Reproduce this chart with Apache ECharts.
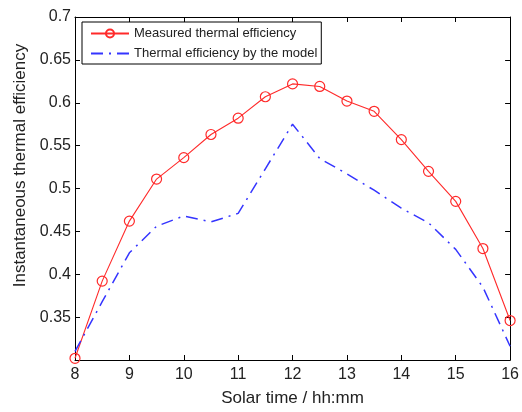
<!DOCTYPE html>
<html>
<head>
<meta charset="utf-8">
<script src="https://cdn.jsdelivr.net/npm/echarts@6/dist/echarts.min.js"></script>
<style>
  html, body { margin: 0; padding: 0; background: #fff; }
  #chart { width: 522px; height: 412px; }
</style>
</head>
<body>
<div id="chart"></div>
<script>
// solar time (hours) and the two efficiency curves
const solarTime = [8, 8.5, 9, 9.5, 10, 10.5, 11, 11.5, 12, 12.5, 13, 13.5, 14, 14.5, 15, 15.5, 16]
const measured = [0.302, 0.392, 0.462, 0.511, 0.536, 0.563, 0.582, 0.607, 0.622, 0.619, 0.602, 0.590, 0.557, 0.520, 0.485, 0.430, 0.346]
const model = [0.31, 0.368, 0.425, 0.456, 0.468, 0.461, 0.471, 0.523, 0.575, 0.535, 0.517, 0.498, 0.477, 0.460, 0.429, 0.385, 0.316]
const seriesNames = ['Measured thermal efficiency', 'Thermal efficiency by the model']

const font = 'Liberation Sans, Arial, sans-serif'
const red = '#ff2a2a'
const blue = '#3535ff'
const chart = echarts.init(document.getElementById('chart'), null, { renderer: 'canvas' })

const pairs = (ys) => solarTime.map((t, i) => [t, ys[i]])

// shared look for the boxed frame (matlab style, ticks pointing in)
const frameAxis = {
  axisLine: { show: true, lineStyle: { color: '#000', width: 1 } },
  axisTick: { show: true, inside: true, length: 5, lineStyle: { color: '#000' } },
  splitLine: { show: false }
}

const option = {
  animation: false,
  textStyle: { fontFamily: font },
  grid: { left: 75, right: 9, top: 17, bottom: 51 },
  legend: {
    orient: 'vertical',
    left: 82,
    top: 22,
    padding: [5, 4, 4, 8],
    itemGap: 7,
    itemWidth: 38,
    itemHeight: 10,
    backgroundColor: '#fff',
    borderColor: '#000',
    borderWidth: 1,
    borderRadius: 0,
    textStyle: { fontSize: 13, color: '#222', fontFamily: font },
    data: [
      { name: seriesNames[0] },
      { name: seriesNames[1], itemStyle: { color: 'transparent', borderWidth: 0 } }
    ]
  },
  xAxis: [
    {
      ...frameAxis,
      type: 'value',
      min: 8,
      max: 16,
      interval: 1,
      name: 'Solar time / hh:mm',
      nameLocation: 'middle',
      nameGap: 30,
      nameTextStyle: { fontSize: 17, color: '#222', fontFamily: font },
      axisLabel: { fontSize: 16, color: '#222', margin: 7, fontFamily: font }
    },
    {
      ...frameAxis,
      type: 'value',
      position: 'top',
      min: 8,
      max: 16,
      interval: 1,
      axisLabel: { show: false }
    }
  ],
  yAxis: [
    {
      ...frameAxis,
      type: 'value',
      min: 0.3,
      max: 0.7,
      interval: 0.05,
      name: 'Instantaneous thermal efficiency',
      nameLocation: 'middle',
      nameRotate: 90,
      nameGap: 46,
      nameTextStyle: { fontSize: 17, color: '#222', fontFamily: font, padding: [0, 0, 0, 46] },
      axisLabel: { fontSize: 16, color: '#222', margin: 4, showMinLabel: false, fontFamily: font }
    },
    {
      ...frameAxis,
      type: 'value',
      position: 'right',
      min: 0.3,
      max: 0.7,
      interval: 0.05,
      axisLabel: { show: false }
    }
  ],
  series: [
    {
      name: seriesNames[0],
      type: 'line',
      data: pairs(measured),
      symbol: 'circle',
      symbolSize: 10,
      color: red,
      itemStyle: { color: 'transparent', borderColor: red, borderWidth: 1.2 },
      lineStyle: { color: red, width: 1.1 }
    },
    {
      name: seriesNames[1],
      type: 'line',
      data: pairs(model),
      showSymbol: false,
      symbol: 'none',
      color: blue,
      lineStyle: { color: blue, width: 1.5, type: [12, 6, 2, 6] }
    }
  ]
}

chart.setOption(option)
</script>
</body>
</html>
